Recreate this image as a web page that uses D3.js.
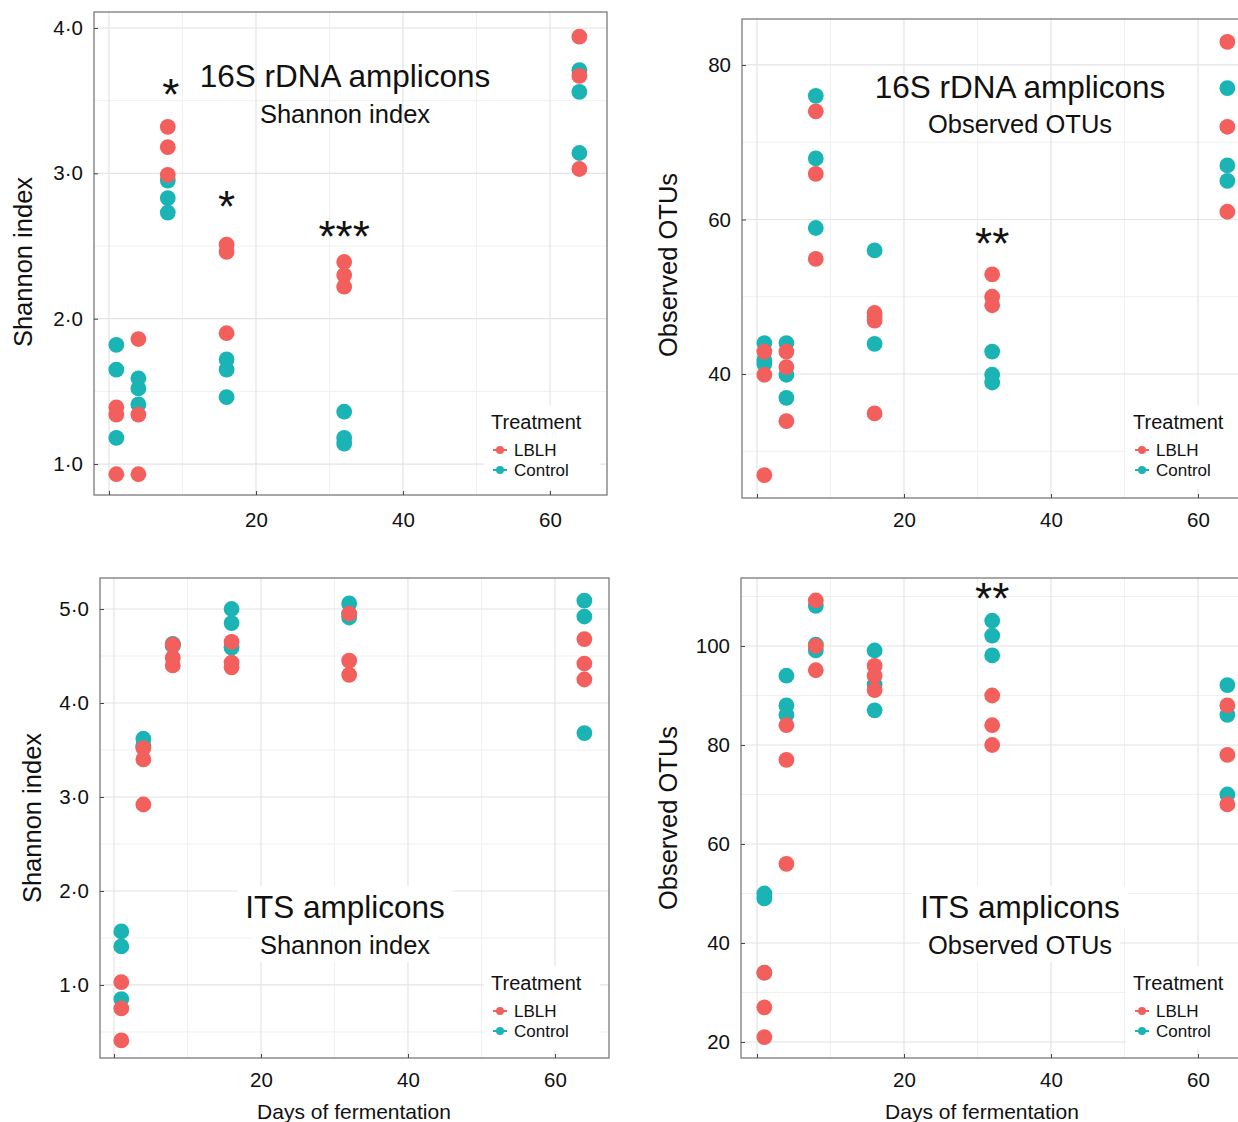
<!DOCTYPE html>
<html>
<head>
<meta charset="utf-8">
<script src="https://cdn.jsdelivr.net/npm/d3@7"></script>
<style>
  body { margin: 0; background: #fff; }
  svg { display: block; font-family: "Liberation Sans", Arial, sans-serif; }
</style>
</head>
<body>
<svg id="chart" width="1238" height="1122"></svg>
<script>
const days = [1, 4, 8, 16, 32, 64];
const treatments = ['LBLH', 'Control'];
const colors = { LBLH: '#F25F5C', Control: '#1BB4B5' };

// three replicates per day, same order as days
const s16ShannonLBLH = [[1.39, 1.34, 0.93], [1.86, 1.34, 0.93], [3.32, 3.18, 2.99], [2.51, 2.46, 1.90], [2.39, 2.30, 2.22], [3.94, 3.67, 3.03]];
const s16ShannonControl = [[1.82, 1.65, 1.18], [1.59, 1.52, 1.41], [2.95, 2.83, 2.73], [1.72, 1.65, 1.46], [1.36, 1.18, 1.14], [3.71, 3.56, 3.14]];

const s16OtuLBLH = [[42.9, 39.9, 26.9], [42.9, 40.9, 33.9], [74.0, 65.9, 54.9], [47.9, 46.9, 34.9], [52.9, 50.0, 48.9], [83.0, 72.0, 61.0]];
const s16OtuControl = [[44.0, 41.8, 41.3], [44.0, 39.9, 36.9], [76.0, 67.9, 58.9], [56.0, 47.4, 43.9], [42.9, 39.9, 38.9], [77.0, 67.0, 65.0]];

const itsShannonLBLH = [[1.03, 0.75, 0.41], [3.52, 3.40, 2.92], [4.62, 4.48, 4.40], [4.65, 4.43, 4.38], [4.95, 4.45, 4.30], [4.68, 4.42, 4.25]];
const itsShannonControl = [[1.57, 1.41, 0.85], [3.62, 3.55, 3.53], [4.63, 4.62, 4.61], [5.00, 4.85, 4.59], [5.06, 4.95, 4.91], [5.09, 4.92, 3.68]];

const itsOtuLBLH = [[34, 27, 21], [84, 77, 56], [109.2, 100, 95.1], [96, 94, 91.1], [90, 84, 80], [88, 78, 68]];
const itsOtuControl = [[50, 49, 34], [94, 88, 86.1], [108.1, 100.3, 99.1], [99.1, 92.2, 87], [105.1, 102.1, 98.1], [92.1, 86.1, 70]];

const xTicks = [0, 20, 40, 60];
const xMinor = [10, 30, 50];
const shannon16Ticks = [1, 2, 3, 4];
const shannonItsTicks = [1, 2, 3, 4, 5];
const otu16Ticks = [40, 60, 80];
const otuItsTicks = [20, 40, 60, 80, 100];

// significance marks: day, y value, label
const s16ShannonStars = [[8.4, 3.59, '*'], [16, 2.82, '*'], [32, 2.61, '***']];
const s16OtuStars = [[32, 57.7, '**']];
const itsOtuStars = [[32, 110.9, '**']];

const svg = d3.select('#chart');
const shannonFmt = v => d3.format('.1f')(v).replace('.', '·');

const panels = [
  {
    title: '16S rDNA amplicons', subtitle: 'Shannon index', yLabel: 'Shannon index', xLabel: null,
    lblh: s16ShannonLBLH, control: s16ShannonControl, stars: s16ShannonStars,
    yTicks: shannon16Ticks, yMinor: [1.5, 2.5, 3.5], yFormat: shannonFmt,
    box: [94, 607, 12, 495], xDomain: [-2.04, 67.76], yDomain: [0.787, 4.11], xPad: 17,
    titleX: 345, titleY: 87, subY: 123, titleBg: false,
    yLabelPos: [32, 262], legendPos: [491, 429]
  },
  {
    title: '16S rDNA amplicons', subtitle: 'Observed OTUs', yLabel: 'Observed OTUs', xLabel: null,
    lblh: s16OtuLBLH, control: s16OtuControl, stars: s16OtuStars,
    yTicks: otu16Ticks, yMinor: [30, 50, 70], yFormat: d3.format('d'),
    box: [742, 1255, 19, 498], xDomain: [-2.04, 67.76], yDomain: [23.95, 85.95], xPad: 14,
    titleX: 1020, titleY: 98, subY: 133, titleBg: false,
    yLabelPos: [677, 265], legendPos: [1133, 429]
  },
  {
    title: 'ITS amplicons', subtitle: 'Shannon index', yLabel: 'Shannon index', xLabel: 'Days of fermentation',
    lblh: itsShannonLBLH, control: itsShannonControl, stars: [],
    yTicks: shannonItsTicks, yMinor: [0.5, 1.5, 2.5, 3.5, 4.5], yFormat: shannonFmt,
    box: [100, 609, 578, 1058], xDomain: [-1.9, 67.35], yDomain: [0.223, 5.33], xPad: 14,
    titleX: 345, titleY: 918, subY: 954, titleBg: true,
    yLabelPos: [41, 818], legendPos: [491, 990], xLabelPos: [354, 1119]
  },
  {
    title: 'ITS amplicons', subtitle: 'Observed OTUs', yLabel: 'Observed OTUs', xLabel: 'Days of fermentation',
    lblh: itsOtuLBLH, control: itsOtuControl, stars: itsOtuStars,
    yTicks: otuItsTicks, yMinor: [30, 50, 70, 90, 110], yFormat: d3.format('d'),
    box: [741, 1255, 578, 1058], xDomain: [-2.18, 67.76], yDomain: [16.77, 113.74], xPad: 14,
    titleX: 1020, titleY: 918, subY: 954, titleBg: true,
    yLabelPos: [677, 818], legendPos: [1133, 990], xLabelPos: [982, 1119]
  }
];

panels.forEach(p => {
  const [left, right, top, bottom] = p.box;
  const x = d3.scaleLinear().domain(p.xDomain).range([left, right]);
  const y = d3.scaleLinear().domain(p.yDomain).range([bottom, top]);
  const g = svg.append('g');

  // grid
  g.selectAll('.xminor').data(xMinor).join('line')
    .attr('x1', d => x(d)).attr('x2', d => x(d)).attr('y1', top).attr('y2', bottom)
    .attr('stroke', '#f0f0f0').attr('stroke-width', 1);
  g.selectAll('.yminor').data(p.yMinor.filter(v => v > p.yDomain[0] && v < p.yDomain[1])).join('line')
    .attr('y1', d => y(d)).attr('y2', d => y(d)).attr('x1', left).attr('x2', right)
    .attr('stroke', '#f0f0f0').attr('stroke-width', 1);
  g.selectAll('.xmajor').data(xTicks).join('line')
    .attr('x1', d => x(d)).attr('x2', d => x(d)).attr('y1', top).attr('y2', bottom)
    .attr('stroke', '#e4e4e4').attr('stroke-width', 1.2);
  g.selectAll('.ymajor').data(p.yTicks).join('line')
    .attr('y1', d => y(d)).attr('y2', d => y(d)).attr('x1', left).attr('x2', right)
    .attr('stroke', '#e4e4e4').attr('stroke-width', 1.2);

  // title, with a white label box on the ITS panels
  const tg = g.append('g');
  const t1 = tg.append('text').attr('x', p.titleX).attr('y', p.titleY)
    .attr('text-anchor', 'middle').attr('font-size', 31.5).attr('fill', '#111').text(p.title);
  const t2 = tg.append('text').attr('x', p.titleX).attr('y', p.subY)
    .attr('text-anchor', 'middle').attr('font-size', 25.5).attr('fill', '#111').text(p.subtitle);
  if (p.titleBg) {
    [t1, t2].forEach(t => {
      const b = t.node().getBBox();
      tg.insert('rect', 'text').attr('x', b.x - 8).attr('y', b.y - 3)
        .attr('width', b.width + 16).attr('height', b.height + 6).attr('fill', '#fff');
    });
  }

  // points: control first, LBLH on top
  const pts = [];
  [['Control', p.control], ['LBLH', p.lblh]].forEach(([name, vals]) => {
    days.forEach((d, i) => vals[i].forEach(v => pts.push({ day: d, value: v, treatment: name })));
  });
  g.selectAll('circle.pt').data(pts).join('circle')
    .attr('class', 'pt')
    .attr('cx', d => x(d.day)).attr('cy', d => y(d.value)).attr('r', 7.9)
    .attr('fill', d => colors[d.treatment]);

  // stars
  g.selectAll('.star').data(p.stars).join('text')
    .attr('x', d => x(d[0])).attr('y', d => y(d[1])).attr('dy', '0.5em')
    .attr('text-anchor', 'middle').attr('font-size', 44).attr('fill', '#111')
    .text(d => d[2]);

  // legend
  const [lx, ly] = p.legendPos;
  const lg = g.append('g');
  lg.append('rect').attr('x', lx - 7).attr('y', ly - 24).attr('width', 116).attr('height', 84).attr('fill', '#fff');
  lg.append('text').attr('x', lx).attr('y', ly).attr('font-size', 20).attr('fill', '#111').text('Treatment');
  treatments.forEach((t, i) => {
    const cy = ly + 21 + i * 20;
    lg.append('line').attr('x1', lx + 2).attr('x2', lx + 16).attr('y1', cy).attr('y2', cy)
      .attr('stroke', colors[t]).attr('stroke-width', 2);
    lg.append('circle').attr('cx', lx + 9).attr('cy', cy).attr('r', 4).attr('fill', colors[t]);
    lg.append('text').attr('x', lx + 23).attr('y', cy + 6).attr('font-size', 17).attr('fill', '#111').text(t);
  });

  // axes (inward ticks)
  const yAxis = d3.axisLeft(y).tickValues(p.yTicks).tickFormat(p.yFormat).tickSize(-4).tickPadding(11);
  const xAxis = d3.axisBottom(x).tickValues(xTicks).tickFormat(d => d === 0 ? '' : d).tickSize(-4).tickPadding(p.xPad);
  [svg.append('g').attr('transform', `translate(${left},0)`).call(yAxis),
   svg.append('g').attr('transform', `translate(0,${bottom})`).call(xAxis)].forEach(a => {
    a.select('.domain').remove();
    a.selectAll('line').attr('stroke', '#444');
    a.selectAll('text').attr('font-size', 20.5).attr('fill', '#111').attr('font-family', '"Liberation Sans", Arial, sans-serif');
  });

  // panel border
  g.append('rect').attr('x', left).attr('y', top).attr('width', right - left).attr('height', bottom - top)
    .attr('fill', 'none').attr('stroke', '#7a7a7a').attr('stroke-width', 1.3);

  // axis titles
  svg.append('text')
    .attr('transform', `translate(${p.yLabelPos[0]},${p.yLabelPos[1]}) rotate(-90)`)
    .attr('text-anchor', 'middle').attr('font-size', 25.5).attr('fill', '#111').text(p.yLabel);
  if (p.xLabel) {
    svg.append('text').attr('x', p.xLabelPos[0]).attr('y', p.xLabelPos[1])
      .attr('text-anchor', 'middle').attr('font-size', 21).attr('fill', '#111').text(p.xLabel);
  }
});
</script>
</body>
</html>
